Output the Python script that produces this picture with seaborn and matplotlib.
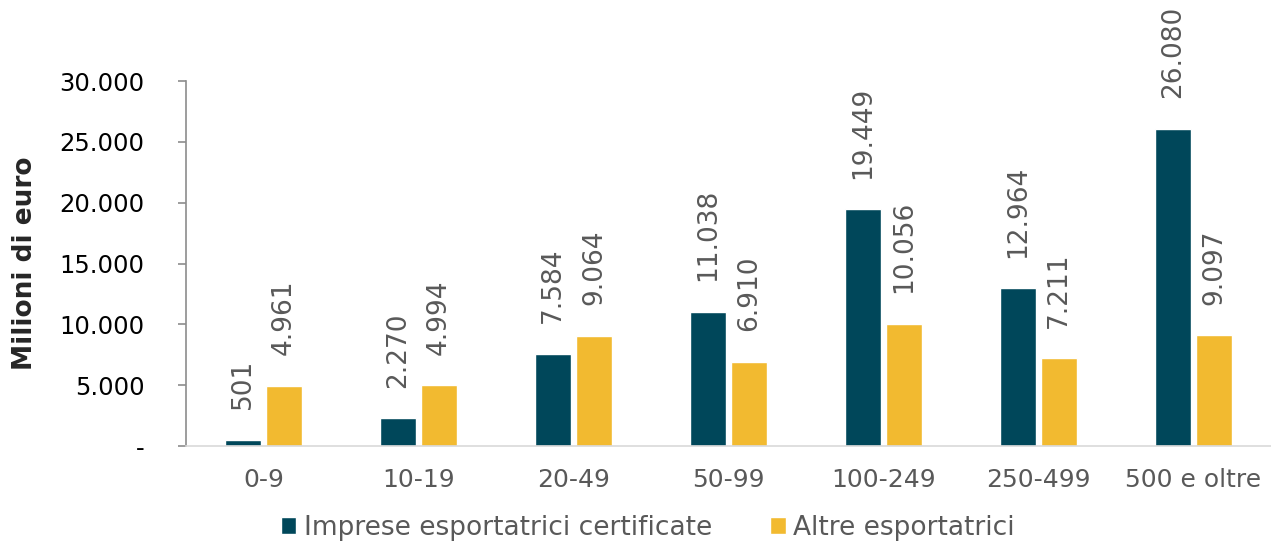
import pandas as pd
import matplotlib
matplotlib.use('Agg')
import matplotlib.pyplot as plt
import seaborn as sns

classi = ['0-9', '10-19', '20-49', '50-99', '100-249', '250-499', '500 e oltre']
certificate = [501, 2270, 7584, 11038, 19449, 12964, 26080]
altre = [4961, 4994, 9064, 6910, 10056, 7211, 9097]
serie = ['Imprese esportatrici certificate', 'Altre esportatrici']
colori = ['#00475A', '#F2BA30']

df = pd.DataFrame({
    'classe': classi * 2,
    'valore': certificate + altre,
    'serie': [serie[0]] * len(classi) + [serie[1]] * len(classi),
})

def fmt(v):
    return f'{int(v):,}'.replace(',', '.')

sns.set_style('white')
plt.rcParams['font.family'] = ['DejaVu Sans']

fig = plt.figure(figsize=(12.71, 5.42), dpi=100)
ax = fig.add_axes([0.1463, 0.177, 0.8537, 0.6734])

sns.barplot(data=df, x='classe', y='valore', hue='serie', palette=colori,
            width=0.53, gap=0.12, saturation=1, ax=ax, legend=True)

for cont in ax.containers:
    ax.bar_label(cont, labels=[fmt(v) for v in cont.datavalues], rotation=90,
                 padding=22, fontsize=19, color='#595959')

ax.set_ylim(0, 30000)
ax.set_xlim(-0.5, len(classi) - 0.5)
ax.set_yticks(range(0, 30001, 5000))
ax.set_yticklabels(['-'] + [fmt(v) for v in range(5000, 30001, 5000)])
ax.tick_params(axis='y', length=6, width=1.2, color='#8c8c8c', pad=24, labelsize=17.5, labelcolor='black', left=True)
ax.tick_params(axis='x', length=0, pad=16, labelsize=18, labelcolor='#595959')

for s in ['top', 'right']:
    ax.spines[s].set_visible(False)
ax.spines['left'].set_color('#8c8c8c')
ax.spines['left'].set_linewidth(1.2)
ax.spines['bottom'].set_color('#d9d9d9')
ax.spines['bottom'].set_linewidth(1.2)

ax.set_xlabel('')
ax.set_ylabel('Milioni di euro', fontsize=19, fontweight='bold')
ax.yaxis.set_label_coords(-0.136, 0.5)

handles, labels = ax.get_legend_handles_labels()
ax.get_legend().remove()
leg = fig.legend(handles, labels, loc='center', bbox_to_anchor=(0.5095, 0.026), ncol=2,
                 frameon=False, fontsize=19, handlelength=0.6, handleheight=0.6,
                 handletextpad=0.27, columnspacing=2.2)
for t in leg.get_texts():
    t.set_color('#595959')

fig.savefig('out.png', dpi=100)
